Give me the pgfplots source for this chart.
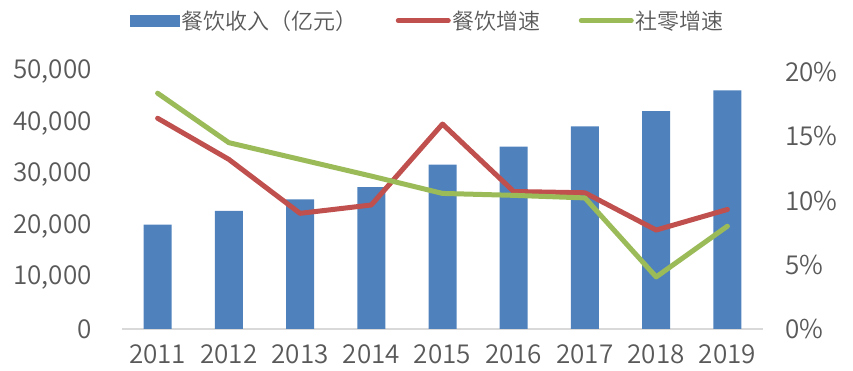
\documentclass[border=0pt]{standalone}
\usepackage{pgfplots}
\pgfplotsset{compat=1.18}
\usepackage{fontspec}
\setmainfont{Noto Sans CJK SC DemiLight}[Numbers=Proportional]
\definecolor{cBlue}{HTML}{4F81BD}
\definecolor{cRed}{HTML}{C0504D}
\definecolor{cGreen}{HTML}{9BBB59}
\definecolor{cText}{HTML}{595959}
\definecolor{cAxis}{HTML}{D9D9D9}
\begin{document}
\begin{tikzpicture}
\begin{axis}[name=ax, scale only axis, width=641bp, height=257bp,
  xmin=-0.5, xmax=8.5, ymin=0, ymax=50000,
  xtick={0,...,8}, xticklabels={2011,2012,2013,2014,2015,2016,2017,2018,2019},
  ytick={0,10000,20000,30000,40000,50000},
  scaled y ticks=false,
  /pgf/number format/assume math mode=true,
  /pgf/number format/.cd, fixed, 1000 sep={,}, /pgfplots/.cd,
  axis x line*=bottom, axis y line*=left,
  x axis line style={cAxis, line width=1.5bp, -},
  y axis line style={draw=none},
  major tick length=0pt, tick style={draw=none},
  tick label style={font=\fontsize{26bp}{28bp}\selectfont, text=cText, inner sep=0pt},
  yticklabel style={anchor=east, xshift=-30bp},
  xticklabel style={anchor=north, yshift=-15bp},
  legend style={at={(axis description cs:0.477,1.2)}, anchor=center, draw=none, fill=none,
    legend columns=3, font=\fontsize{22bp}{24bp}\selectfont, text=cText,
    nodes={inner sep=2bp},
    /tikz/every even column/.append style={column sep=36bp}},
  clip=false,
]
\addplot[ybar, bar width=28bp, fill=cBlue, draw=none,
  legend image code/.code={\fill[cBlue] (0bp,-6bp) rectangle (50bp,6bp);}]
  coordinates {(0,20300) (1,23000) (2,25200) (3,27600) (4,32000) (5,35500) (6,39400) (7,42400) (8,46400)};
\addlegendentry{餐饮收入（亿元）}
\addlegendimage{legend image code/.code={\draw[cRed, line width=5bp, line cap=round] (2bp,0) -- (52bp,0);}}
\addlegendentry{餐饮增速}
\addlegendimage{legend image code/.code={\draw[cGreen, line width=5bp, line cap=round] (2bp,0) -- (52bp,0);}}
\addlegendentry{社零增速}
\end{axis}
\begin{axis}[scale only axis, width=641bp, height=257bp,
  xmin=-0.5, xmax=8.5, ymin=0, ymax=20,
  axis x line=none, axis y line*=right,
  y axis line style={draw=none},
  ytick={0,5,10,15,20},
  yticklabel={\pgfmathprintnumber{\tick}\%},
  /pgf/number format/assume math mode=true,
  major tick length=0pt, tick style={draw=none},
  tick label style={font=\fontsize{26bp}{28bp}\selectfont, text=cText, inner sep=0pt},
  yticklabel style={anchor=west, xshift=22bp},
  clip=false,
]
\addplot[cRed, line width=5bp, line join=round, line cap=round]
  coordinates {(0,16.4) (1,13.2) (2,9.0) (3,9.65) (4,15.95) (5,10.7) (6,10.6) (7,7.7) (8,9.3)};
\addplot[cGreen, line width=5bp, line join=round, line cap=round]
  coordinates {(0,18.35) (1,14.5) (2,13.2) (3,11.9) (4,10.55) (5,10.4) (6,10.2) (7,4.05) (8,8.0)};
\end{axis}
\path ([shift={(-122bp,-42bp)}]ax.south west) rectangle ([shift={(90bp,72bp)}]ax.north east);
\end{tikzpicture}
\end{document}
